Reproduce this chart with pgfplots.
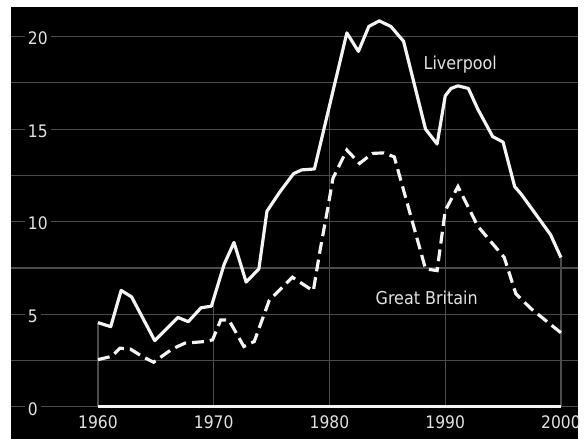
\documentclass[border=0pt]{standalone}
\usepackage{fontspec}
\setmainfont{DejaVu Sans Condensed}
\usepackage{pgfplots}
\pgfplotsset{compat=1.18}
\definecolor{gridgray}{HTML}{4C4C4C}
\definecolor{linewhite}{HTML}{F4F4F4}
\definecolor{labelgray}{HTML}{E2E2E2}
\begin{document}
\begin{tikzpicture}
\fill[white] (-11bp,0) rectangle (573bp,443bp);
\begin{axis}[
  at={(0,0)}, anchor=south west,
  scale only axis,
  width=573bp, height=436bp,
  xmin=1952.474, xmax=2001.48,
  ymin=-1.711, ymax=21.604,
  axis background/.style={fill=black},
  axis line style={draw=none},
  tick style={draw=none},
  xtick={1960,1970,1980,1990,2000},
  ytick={0,5,10,15,20},
  minor ytick={2.5,7.5,12.5,17.5},
  ymajorgrids, yminorgrids,
  major grid style={gridgray, line width=1.1bp},
  minor grid style={gridgray, line width=1.1bp},
  /pgf/number format/assume math mode=true,
  /pgf/number format/1000 sep={},
  xticklabel style={font=\fontsize{17.5}{20}\selectfont, text=labelgray, anchor=center, yshift=16bp},
  yticklabel style={font=\fontsize{17.5}{20}\selectfont, text=labelgray, anchor=west, xshift=14bp, yshift=-2bp, fill=black, inner xsep=3bp, inner ysep=1bp},
  clip=false,
]
% drop lines from the Liverpool curve at each decade
\addplot[gridgray, line width=1.1bp, ycomb, mark=none] coordinates {
  (1960,4.55) (1970,5.85) (1980,16.25) (1990,16.8) (2000,8.07)
};
% baseline
\addplot[linewhite, line width=3bp, mark=none] coordinates {(1960,0) (2000,0)};
% Liverpool
\addplot[linewhite, line width=3.2bp, mark=none, line join=round] coordinates {
(1960,4.55) (1961.1,4.33) (1962.0,6.29) (1962.9,5.94) (1964.9,3.58) (1966.9,4.83)
(1967.8,4.6) (1968.9,5.35) (1969.8,5.44) (1970.9,7.7) (1971.75,8.88) (1972.8,6.74)
(1973.9,7.45) (1974.6,10.57) (1975.7,11.6) (1976.9,12.6) (1977.6,12.8) (1978.7,12.85)
(1981.5,20.2) (1982.5,19.2) (1983.4,20.55) (1984.3,20.85) (1985.3,20.55) (1986.4,19.75)
(1988.3,15.0) (1989.3,14.2) (1990.0,16.8) (1990.5,17.2) (1991.1,17.34) (1992.0,17.2)
(1992.8,16.1) (1994.1,14.6) (1995.0,14.3) (1996.0,11.9) (1996.6,11.46) (1999.1,9.3)
(2000,8.07)
};
% Great Britain
\addplot[linewhite, line width=3.2bp, mark=none, dash pattern=on 12bp off 6bp] coordinates {
(1960,2.55) (1961.2,2.73) (1961.9,3.17) (1962.8,3.12) (1963.8,2.73) (1964.8,2.41)
(1966.4,3.12) (1967.5,3.44) (1969.3,3.53) (1969.9,3.62) (1970.6,4.69) (1971.3,4.7)
(1972.6,3.26) (1973.5,3.53) (1974.8,5.76) (1976.8,7.0) (1978.6,6.26) (1979.2,8.5)
(1979.9,10.9) (1980.3,12.35) (1981.5,13.87) (1982.6,13.15) (1983.7,13.69) (1984.7,13.72)
(1985.6,13.5) (1988.3,7.45) (1989.3,7.36) (1990.0,10.6) (1991.1,11.9) (1992.8,9.77)
(1995.1,8.07) (1996.1,6.11) (1997.4,5.31) (2000,4.0)
};
\node[text=labelgray, font=\fontsize{18}{20}\selectfont] at (axis cs:1991.3,18.5) {Liverpool};
\node[text=labelgray, font=\fontsize{18}{20}\selectfont] at (axis cs:1988.4,5.88) {Great Britain};
\end{axis}
\end{tikzpicture}
\end{document}
